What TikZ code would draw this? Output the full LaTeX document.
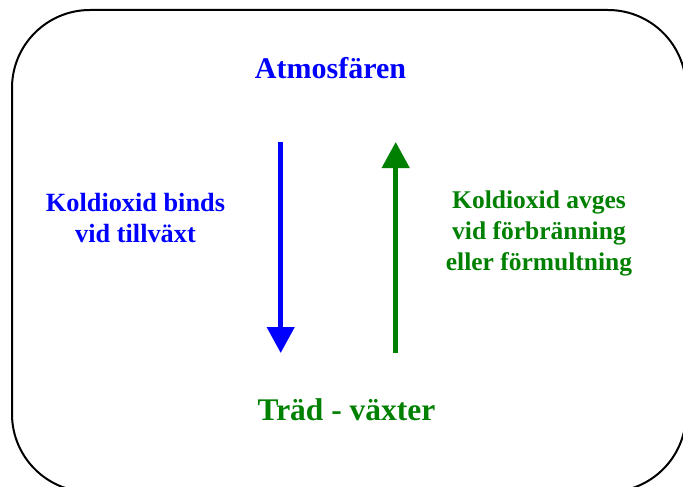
\documentclass[tikz,border=0pt]{standalone}
\usepackage{fontspec}
\setmainfont{Liberation Serif}
\usetikzlibrary{arrows.meta}
\definecolor{myblue}{RGB}{0,0,255}
\definecolor{mygreen}{RGB}{0,128,0}
\tikzset{
  frame/.style={draw=black,line width=2pt,rounded corners=78pt},
  title/.style={font=\fontsize{30}{34}\selectfont\bfseries,anchor=base,inner sep=0pt},
  lbl/.style={font=\fontsize{25.5}{31}\selectfont\bfseries,align=center,anchor=base,inner sep=0pt},
  flow/.style={line width=4.5pt,-{Triangle[length=26pt,width=27pt]}}
}
\begin{document}
\begin{tikzpicture}[x=1pt,y=-1pt]
\useasboundingbox (0,0) rectangle (683,487);
\clip (0,0) rectangle (683,487);
\draw[frame] (12,10) rectangle (686,492);
\node[title,text=myblue] (atm) at (330.5,78) {Atmosfären};
\node[title,text=mygreen,font=\fontsize{31.5}{36}\selectfont\bfseries] (trad) at (346.5,420) {Träd - växter};
\node[lbl,text=myblue,font=\fontsize{26.3}{31}\selectfont\bfseries] (bind) at (135.5,242) {Koldioxid binds\\vid tillväxt};
\node[lbl,text=mygreen] (avg) at (539,270) {Koldioxid avges\\vid förbränning\\eller förmultning};
\coordinate (b1) at (280.7,142);
\coordinate (b2) at (280.7,353);
\coordinate (g1) at (395.7,353);
\coordinate (g2) at (395.7,142);
\draw[flow,draw=myblue,fill=myblue] (b1) -- (b2);
\draw[flow,draw=mygreen,fill=mygreen] (g1) -- (g2);
\end{tikzpicture}
\end{document}
